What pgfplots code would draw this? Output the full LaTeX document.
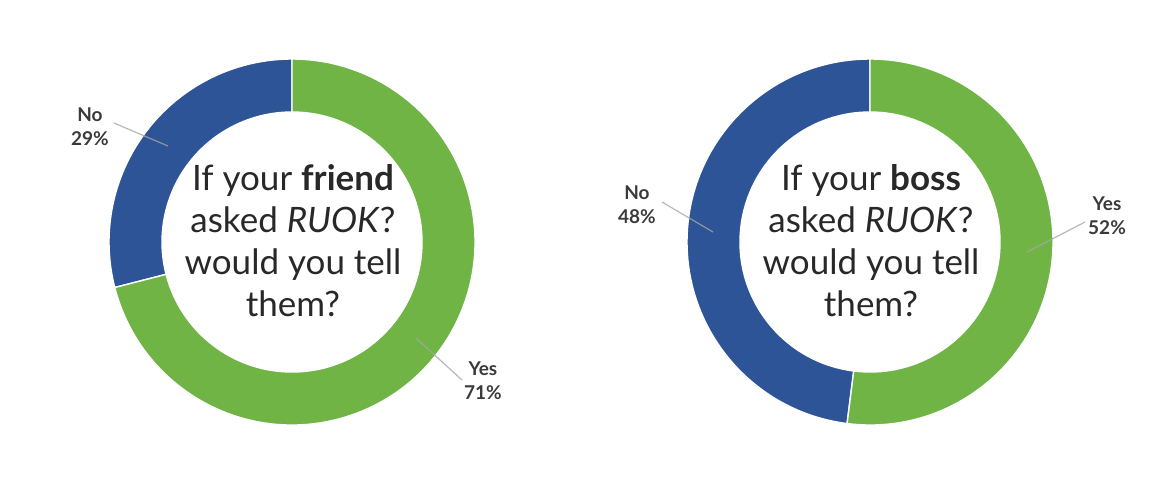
\documentclass[border=0pt]{standalone}
\usepackage{pgfplots}
\pgfplotsset{compat=1.18}
\usepackage{pgfplotstable}
\usepackage{fontspec}
\setmainfont{Lato}
\usetikzlibrary{calc}

\definecolor{ringblue}{RGB}{46,84,152}
\definecolor{ringgreen}{RGB}{112,180,70}
\definecolor{labelgray}{RGB}{58,58,58}
\definecolor{textdark}{RGB}{40,40,40}

% share of answers, in percent
\pgfplotstableread{
chart  no  yes
friend 29  71
boss   48  52
}\answers

\pgfplotstablegetelem{0}{no}\of\answers \let\friendNo\pgfplotsretval
\pgfplotstablegetelem{1}{no}\of\answers \let\bossNo\pgfplotsretval

% ring radii (1px = 0.5pt)
\def\Rout{91.5pt}
\def\Rin{65pt}

% \ring{centre}{start angle}{end angle}{colour}
\newcommand{\ring}[4]{%
  \fill[#4, draw=white, line width=0.7pt]
    ($(#1)+(#2:\Rout)$) arc[start angle=#2, end angle=#3, radius=\Rout]
    -- ($(#1)+(#3:\Rin)$) arc[start angle=#3, end angle=#2, radius=\Rin]
    -- cycle;%
}

\begin{document}
\begin{tikzpicture}
\begin{axis}[
    hide axis,
    scale only axis,
    width=585pt,
    height=249.5pt,
    xmin=0, xmax=1170,
    ymin=0, ymax=499,
    clip=false
]
\path (axis cs:0,0) rectangle (axis cs:1170,499);

% left donut: friend
\pgfmathsetmacro{\fa}{90+3.6*\friendNo}
\ring{axis cs:292,257}{90}{\fa}{ringblue}
\ring{axis cs:292,257}{\fa}{450}{ringgreen}

% right donut: boss
\pgfmathsetmacro{\ba}{90+3.6*\bossNo}
\ring{axis cs:870,257}{90}{\ba}{ringblue}
\ring{axis cs:870,257}{\ba}{450}{ringgreen}

% leader lines
\draw[gray!70, opacity=0.8, line width=0.6pt] (axis cs:114,376) -- (axis cs:168,353);
\draw[gray!70, opacity=0.8, line width=0.6pt] (axis cs:416,161) -- (axis cs:462,119);
\draw[gray!70, opacity=0.8, line width=0.6pt] (axis cs:662,297) -- (axis cs:713,267);
\draw[gray!70, opacity=0.8, line width=0.6pt] (axis cs:1085,277) -- (axis cs:1027,247);

% labels
\node[align=center, font=\fontsize{9.5}{12}\selectfont\bfseries, text=labelgray]
  at (axis cs:90,372) {No\\29\%};
\node[align=center, font=\fontsize{9.5}{12}\selectfont\bfseries, text=labelgray]
  at (axis cs:483,118) {Yes\\71\%};
\node[align=center, font=\fontsize{9.5}{12}\selectfont\bfseries, text=labelgray]
  at (axis cs:637,294) {No\\48\%};
\node[align=center, font=\fontsize{9.5}{12}\selectfont\bfseries, text=labelgray]
  at (axis cs:1107,283) {Yes\\52\%};

% centre questions
\node[align=center, font=\fontsize{17.5}{21}\selectfont, text=textdark]
  at (axis cs:293,258) {If your \textbf{friend}\\asked \textit{RUOK}?\\would you tell\\them?};
\node[align=center, font=\fontsize{17.5}{21}\selectfont, text=textdark]
  at (axis cs:871,258) {If your \textbf{boss}\\asked \textit{RUOK}?\\would you tell\\them?};
\end{axis}
\end{tikzpicture}
\end{document}
